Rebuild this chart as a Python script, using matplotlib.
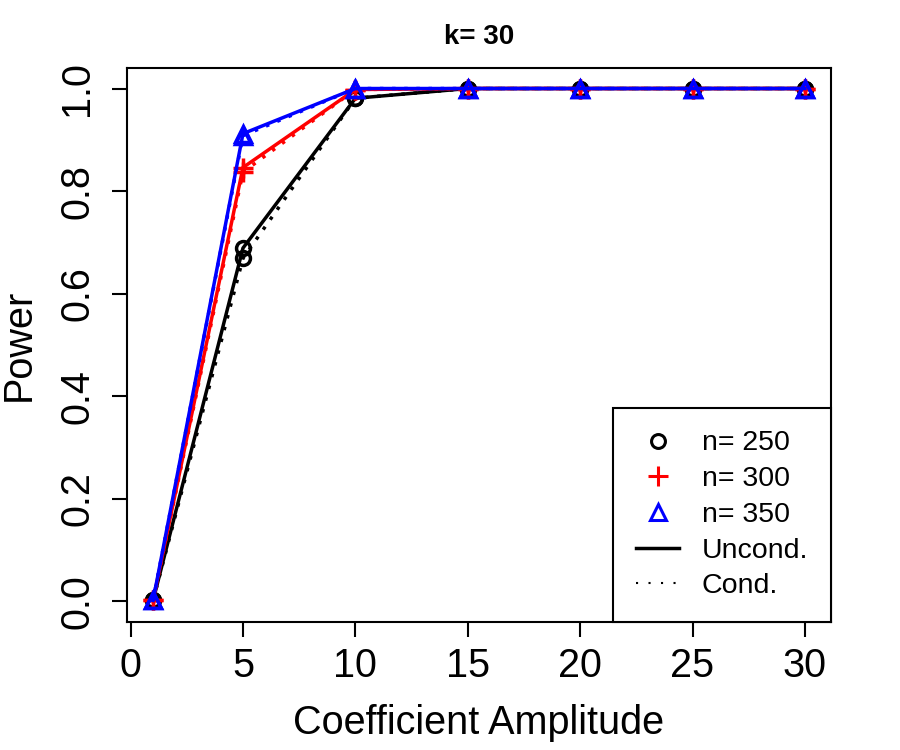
import matplotlib
matplotlib.use("Agg")
import matplotlib.pyplot as plt
from matplotlib.lines import Line2D

plt.rcParams['font.family'] = ['Liberation Sans', 'DejaVu Sans']

# data
amp = [1, 5, 10, 15, 20, 25, 30]
n_labels = ["n= 250", "n= 300", "n= 350"]
uncond_250 = [0.002, 0.689, 0.981, 1.0, 1.0, 1.0, 1.0]
cond_250 = [0.002, 0.669, 0.981, 1.0, 1.0, 1.0, 1.0]
uncond_300 = [0.002, 0.846, 0.998, 1.0, 1.0, 1.0, 1.0]
cond_300 = [0.002, 0.837, 0.998, 1.0, 1.0, 1.0, 1.0]
uncond_350 = [0.002, 0.912, 1.0, 1.0, 1.0, 1.0, 1.0]
cond_350 = [0.002, 0.908, 1.0, 1.0, 1.0, 1.0, 1.0]

series = [
    (uncond_250, cond_250, "black", "o", 10),
    (uncond_300, cond_300, "red", "+", 15),
    (uncond_350, cond_350, "blue", "^", 12),
]

fig = plt.figure(figsize=(9, 7.5), dpi=100)
ax = fig.add_axes([127 / 900, 1 - 622 / 750, (831 - 127) / 900, (622 - 68) / 750])

lw = 2.5
for unc, con, col, mk, ms in series:
    ax.plot(amp, unc, color=col, lw=lw, ls="-", marker=mk, ms=ms, mew=lw,
            mfc="none", mec=col)
    ax.plot(amp, con, color=col, lw=lw, ls=(0, (1, 2.5)), marker=mk, ms=ms,
            mew=lw, mfc="none", mec=col)

ax.set_xlim(-0.16, 31.16)
ax.set_ylim(-0.04, 1.04)
ax.set_xticks([0, 5, 10, 15, 20, 25, 30])
ax.set_yticks([0.0, 0.2, 0.4, 0.6, 0.8, 1.0])
ax.set_yticklabels(["0.0", "0.2", "0.4", "0.6", "0.8", "1.0"], rotation=90,
                   va="center")

for sp in ax.spines.values():
    sp.set_linewidth(1.5)
ax.tick_params(axis="both", length=11, width=1.5, labelsize=28.5)
ax.tick_params(axis="x", pad=7)
ax.tick_params(axis="y", pad=11)

ax.set_xlabel("Coefficient Amplitude", fontsize=28.5, labelpad=14)
ax.set_ylabel("Power", fontsize=28.5, labelpad=15)
ax.set_title("k= 30", fontsize=20, fontweight="bold", pad=17)

handles = [
    Line2D([], [], ls="none", marker="o", ms=10, mew=2.2, mfc="none", mec="black"),
    Line2D([], [], ls="none", marker="+", ms=15, mew=2.2, mec="red"),
    Line2D([], [], ls="none", marker="^", ms=11, mew=2.2, mfc="none", mec="blue"),
    Line2D([], [], color="black", lw=2.5, ls="-"),
    Line2D([], [], color="black", lw=1.5, ls=(0, (1, 5))),
]
labels = n_labels + ["Uncond.", "Cond."]
leg = ax.legend(handles, labels, loc="lower right", bbox_to_anchor=(1, 0),
                borderaxespad=0, fontsize=20.5, frameon=True, fancybox=False,
                edgecolor="black", framealpha=1, handlelength=1.5,
                handletextpad=0.8, borderpad=0.8, labelspacing=0.34)
leg.get_frame().set_linewidth(1.5)

fig.savefig("out.png", dpi=100)
